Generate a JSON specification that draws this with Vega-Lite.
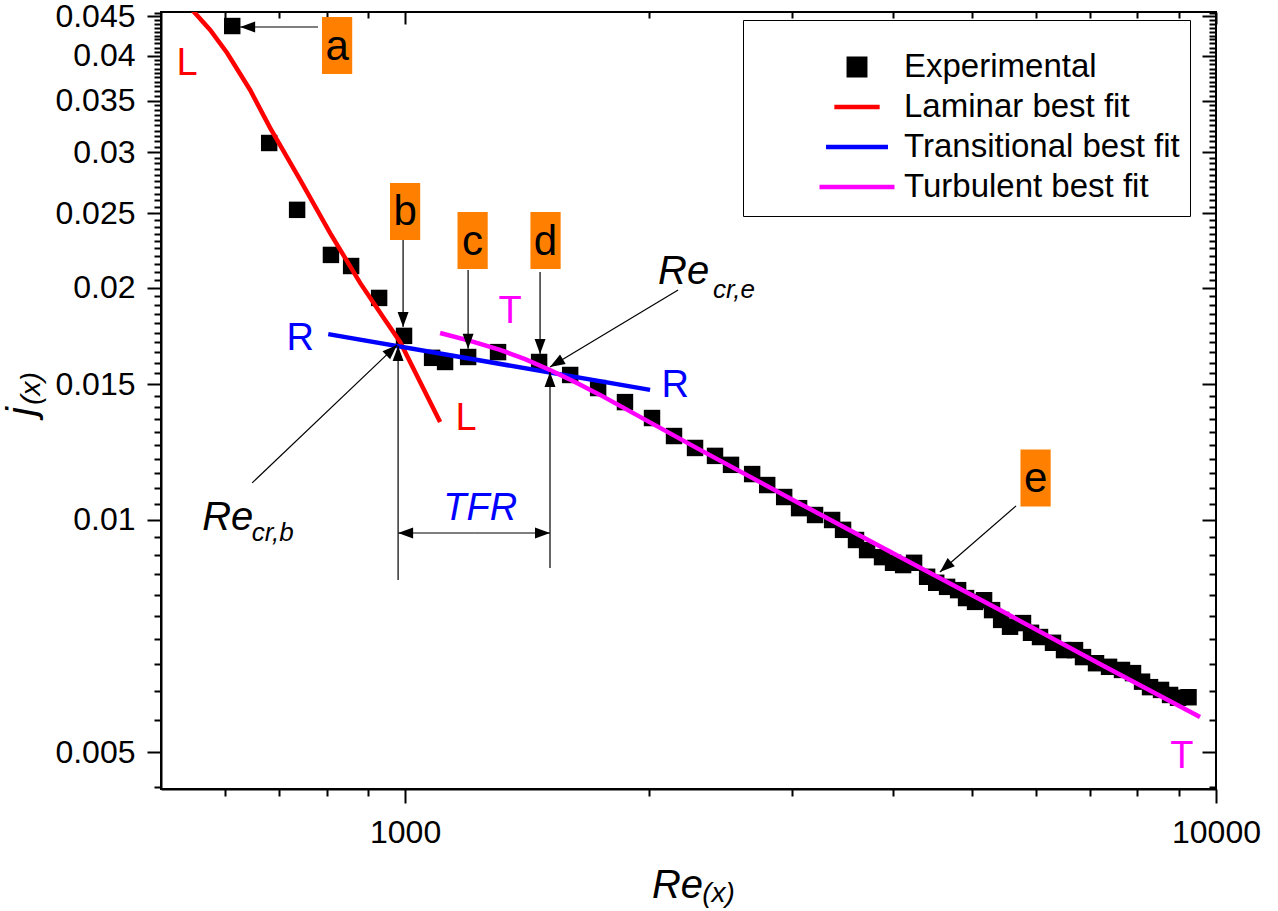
{
  "$schema": "https://vega.github.io/schema/vega-lite/v6.json",
  "width": 1055,
  "height": 777,
  "autosize": "none",
  "padding": {"left": 161, "top": 12, "right": 62, "bottom": 122},
  "background": "white",
  "config": {
    "view": {"stroke": "black", "strokeWidth": 2},
    "font": "Liberation Sans",
    "axis": {"domainColor": "black", "domainWidth": 2, "tickColor": "black", "tickWidth": 2, "labelFont": "Liberation Sans", "labelFontSize": 32, "labelColor": "black", "grid": false, "titleColor": "black", "titleFont": "Liberation Sans", "titleFontWeight": "normal"}
  },
  "datasets": {
    "exp": [
      {"Re": 612.1, "j": 0.04372, "series": "Experimental"},
      {"Re": 679.8, "j": 0.03083, "series": "Experimental"},
      {"Re": 735.9, "j": 0.02525, "series": "Experimental"},
      {"Re": 810.1, "j": 0.02207, "series": "Experimental"},
      {"Re": 857.9, "j": 0.02135, "series": "Experimental"},
      {"Re": 928.9, "j": 0.01941, "series": "Experimental"},
      {"Re": 997, "j": 0.01733, "series": "Experimental"},
      {"Re": 1079.7, "j": 0.01623, "series": "Experimental"},
      {"Re": 1120.2, "j": 0.01603, "series": "Experimental"},
      {"Re": 1196, "j": 0.01627, "series": "Experimental"},
      {"Re": 1302, "j": 0.01651, "series": "Experimental"},
      {"Re": 1463, "j": 0.01603, "series": "Experimental"},
      {"Re": 1598, "j": 0.01542, "series": "Experimental"},
      {"Re": 1730, "j": 0.01483, "series": "Experimental"},
      {"Re": 1867, "j": 0.01422, "series": "Experimental"},
      {"Re": 2016, "j": 0.01356, "series": "Experimental"},
      {"Re": 2146, "j": 0.01285, "series": "Experimental"},
      {"Re": 2278, "j": 0.0124, "series": "Experimental"},
      {"Re": 2411, "j": 0.01211, "series": "Experimental"},
      {"Re": 2523, "j": 0.01179, "series": "Experimental"},
      {"Re": 2679, "j": 0.01147, "series": "Experimental"},
      {"Re": 2796, "j": 0.0111, "series": "Experimental"},
      {"Re": 2934, "j": 0.01071, "series": "Experimental"},
      {"Re": 3061, "j": 0.01036, "series": "Experimental"},
      {"Re": 3203, "j": 0.01015, "series": "Experimental"},
      {"Re": 3362, "j": 0.0100, "series": "Experimental"},
      {"Re": 3468, "j": 0.00971, "series": "Experimental"},
      {"Re": 3598, "j": 0.00942, "series": "Experimental"},
      {"Re": 3713, "j": 0.00914, "series": "Experimental"},
      {"Re": 3874, "j": 0.00895, "series": "Experimental"},
      {"Re": 3997, "j": 0.0088, "series": "Experimental"},
      {"Re": 4113, "j": 0.00874, "series": "Experimental"},
      {"Re": 4243, "j": 0.0088, "series": "Experimental"},
      {"Re": 4403, "j": 0.00844, "series": "Experimental"},
      {"Re": 4518, "j": 0.00829, "series": "Experimental"},
      {"Re": 4660, "j": 0.00819, "series": "Experimental"},
      {"Re": 4808, "j": 0.00811, "series": "Experimental"},
      {"Re": 4918, "j": 0.00792, "series": "Experimental"},
      {"Re": 5045, "j": 0.00783, "series": "Experimental"},
      {"Re": 5176, "j": 0.00787, "series": "Experimental"},
      {"Re": 5295, "j": 0.00764, "series": "Experimental"},
      {"Re": 5433, "j": 0.00742, "series": "Experimental"},
      {"Re": 5572, "j": 0.00727, "series": "Experimental"},
      {"Re": 5781, "j": 0.00735, "series": "Experimental"},
      {"Re": 5914, "j": 0.00714, "series": "Experimental"},
      {"Re": 6067, "j": 0.00705, "series": "Experimental"},
      {"Re": 6295, "j": 0.00693, "series": "Experimental"},
      {"Re": 6495, "j": 0.00678, "series": "Experimental"},
      {"Re": 6701, "j": 0.00678, "series": "Experimental"},
      {"Re": 6855, "j": 0.00664, "series": "Experimental"},
      {"Re": 7113, "j": 0.00652, "series": "Experimental"},
      {"Re": 7381, "j": 0.00645, "series": "Experimental"},
      {"Re": 7657, "j": 0.00639, "series": "Experimental"},
      {"Re": 7901, "j": 0.00633, "series": "Experimental"},
      {"Re": 8106, "j": 0.00617, "series": "Experimental"},
      {"Re": 8292, "j": 0.00607, "series": "Experimental"},
      {"Re": 8555, "j": 0.00602, "series": "Experimental"},
      {"Re": 8777, "j": 0.00593, "series": "Experimental"},
      {"Re": 8978, "j": 0.00588, "series": "Experimental"},
      {"Re": 9250, "j": 0.00589, "series": "Experimental"}
    ],
    "lam": [
      {"Re": 535.6, "j": 0.04696, "series": "Laminar best fit"},
      {"Re": 574.9, "j": 0.0432, "series": "Laminar best fit"},
      {"Re": 603.3, "j": 0.04034, "series": "Laminar best fit"},
      {"Re": 644.0, "j": 0.03612, "series": "Laminar best fit"},
      {"Re": 681.6, "j": 0.03225, "series": "Laminar best fit"},
      {"Re": 742.3, "j": 0.02761, "series": "Laminar best fit"},
      {"Re": 808.3, "j": 0.02356, "series": "Laminar best fit"},
      {"Re": 880.1, "j": 0.0203, "series": "Laminar best fit"},
      {"Re": 944.7, "j": 0.01817, "series": "Laminar best fit"},
      {"Re": 985.9, "j": 0.01702, "series": "Laminar best fit"},
      {"Re": 1043.5, "j": 0.0151, "series": "Laminar best fit"},
      {"Re": 1104.5, "j": 0.0134, "series": "Laminar best fit"}
    ],
    "trans": [
      {"Re": 803.9, "j": 0.01742, "series": "Transitional best fit"},
      {"Re": 2005, "j": 0.01475, "series": "Transitional best fit"}
    ],
    "turb": [
      {"Re": 1104.5, "j": 0.01748, "series": "Turbulent best fit"},
      {"Re": 1202.7, "j": 0.01707, "series": "Turbulent best fit"},
      {"Re": 1309.6, "j": 0.01662, "series": "Turbulent best fit"},
      {"Re": 1406, "j": 0.01617, "series": "Turbulent best fit"},
      {"Re": 1509, "j": 0.01565, "series": "Turbulent best fit"},
      {"Re": 1620, "j": 0.0151, "series": "Turbulent best fit"},
      {"Re": 1739.6, "j": 0.01453, "series": "Turbulent best fit"},
      {"Re": 2311, "j": 0.01233, "series": "Turbulent best fit"},
      {"Re": 3069, "j": 0.0105, "series": "Turbulent best fit"},
      {"Re": 4077, "j": 0.008955, "series": "Turbulent best fit"},
      {"Re": 5416, "j": 0.007641, "series": "Turbulent best fit"},
      {"Re": 7193, "j": 0.006503, "series": "Turbulent best fit"},
      {"Re": 9556, "j": 0.005551, "series": "Turbulent best fit"}
    ],
    "arrows": [
      {"x1": 781.0, "y1": 0.04359, "x2": 626.0, "y2": 0.04359, "dir": "left"},
      {"x1": 994.3, "y1": 0.02307, "x2": 994.3, "y2": 0.0178, "dir": "down"},
      {"x1": 1195.9, "y1": 0.0211, "x2": 1195.9, "y2": 0.01667, "dir": "down"},
      {"x1": 1467, "y1": 0.02098, "x2": 1467, "y2": 0.01642, "dir": "down"},
      {"x1": 2171, "y1": 0.01987, "x2": 1509, "y2": 0.01579, "dir": "cre"},
      {"x1": 647.7, "y1": 0.01117, "x2": 977.5, "y2": 0.01687, "dir": "crb"},
      {"x1": 980.3, "y1": 0.008359, "x2": 980.3, "y2": 0.01682, "dir": "up"},
      {"x1": 1509, "y1": 0.008665, "x2": 1509, "y2": 0.01556, "dir": "up"},
      {"x1": 1216.5, "y1": 0.009619, "x2": 980.3, "y2": 0.009619, "dir": "left"},
      {"x1": 1216.5, "y1": 0.009619, "x2": 1509, "y2": 0.009619, "dir": "right"},
      {"x1": 5668, "y1": 0.01043, "x2": 4566, "y2": 0.008561, "dir": "e"}
    ],
    "boxes": [
      {"Re": 824.4, "j": 0.04124, "t": "a"},
      {"Re": 1000, "j": 0.02513, "t": "b"},
      {"Re": 1211.3, "j": 0.02304, "t": "c"},
      {"Re": 1490, "j": 0.02304, "t": "d"},
      {"Re": 5991, "j": 0.01134, "t": "e"}
    ],
    "lab_L": [
      {"Re": 538.5, "j": 0.03903, "t": "L"},
      {"Re": 1189, "j": 0.01352, "t": "L"}
    ],
    "lab_R": [
      {"Re": 742.2, "j": 0.01717, "t": "R"},
      {"Re": 2152.6, "j": 0.01492, "t": "R"}
    ],
    "lab_T": [
      {"Re": 1347.6, "j": 0.01862, "t": "T"},
      {"Re": 9079, "j": 0.004928, "t": "T"}
    ],
    "re_big": [
      {"Re": 2051, "j": 0.02023, "t": "Re"},
      {"Re": 562.0, "j": 0.009706, "t": "Re"}
    ],
    "re_sub": [
      {"Re": 2398, "j": 0.0194, "t": "cr,e"},
      {"Re": 647, "j": 0.009392, "t": "cr,b"}
    ],
    "tfr": [
      {"Re": 1237.5, "j": 0.01, "t": "TFR"}
    ]
  },
  "layer": [
    {
      "data": {"name": "exp"},
      "mark": {"type": "point", "filled": true, "opacity": 1, "strokeWidth": 0, "clip": true},
      "encoding": {
        "x": {"field": "Re", "type": "quantitative", "scale": {"type": "log", "domain": [500, 10000], "nice": false, "zero": false},
          "axis": {"orient": "bottom", "offset": 0, "values": [1000, 10000], "format": "d", "tickSize": 14, "labelPadding": 14, "labelFlush": false, "labelOverlap": false,
            "title": "Re", "titleFontSize": 40, "titleFontStyle": "italic", "titleX": 516, "titleY": 108, "titleAlign": "center", "titleBaseline": "alphabetic", "titleAnchor": null}},
        "y": {"field": "j", "type": "quantitative", "scale": {"type": "log", "domain": [0.004478, 0.04559], "nice": false, "zero": false},
          "axis": {"orient": "left", "offset": 0, "values": [0.005, 0.01, 0.015, 0.02, 0.025, 0.03, 0.035, 0.04, 0.045], "format": "~g", "tickSize": 14, "labelPadding": 12, "labelFlush": false, "labelOverlap": false,
            "title": "j", "titleFontSize": 40, "titleFontStyle": "italic", "titleAngle": -90, "titleX": -127, "titleY": 399, "titleAlign": "center", "titleBaseline": "alphabetic", "titleAnchor": null}},
        "color": {"field": "series", "type": "nominal",
          "scale": {"domain": ["Experimental", "Laminar best fit", "Transitional best fit", "Turbulent best fit"], "range": ["#000000", "#ff0000", "#0000ff", "#ff00ff"]},
          "legend": {"orient": "none", "legendX": 582, "legendY": 8, "title": " ", "titleFontSize": 8, "titlePadding": 10,
            "padding": 10, "fillColor": "white", "strokeColor": "black",
            "labelFont": "Liberation Sans", "labelFontSize": 33, "labelColor": "black", "labelOffset": 7, "labelLimit": 500,
            "labelExpr": "datum.label + '\u2002\u2002\u2002'",
            "symbolOffset": 64, "clipHeight": 38, "rowPadding": 2, "symbolStrokeWidth": 4.5,
            "encode": {"symbols": {
              "stroke": {"value": {"expr": "(scale('color', datum.value))"}},
              "strokeWidth": {"value": {"expr": "(datum.value === 'Experimental' ? 0 : 4.5)"}},
              "opacity": {"value": 1}
            }}}},
        "shape": {"field": "series", "type": "nominal",
          "scale": {"domain": ["Experimental", "Laminar best fit", "Transitional best fit", "Turbulent best fit"], "range": ["square", "stroke", "stroke", "stroke"]}},
        "size": {"field": "series", "type": "nominal",
          "scale": {"domain": ["Experimental", "Laminar best fit", "Transitional best fit", "Turbulent best fit"], "range": [270, 5625, 5625, 5625]}}
      }
    },
    {
      "data": {"name": "lam"},
      "mark": {"type": "line", "strokeWidth": 4.5, "clip": true},
      "encoding": {
        "x": {"field": "Re", "type": "quantitative", "scale": {"type": "log", "domain": [500, 10000], "nice": false, "zero": false},
          "axis": {"orient": "bottom", "offset": 0, "values": [600, 700, 800, 900, 2000, 3000, 4000, 5000, 6000, 7000, 8000, 9000], "labels": false, "domain": false, "tickSize": 7, "title": null}},
        "y": {"field": "j", "type": "quantitative", "scale": {"type": "log", "domain": [0.004478, 0.04559], "nice": false, "zero": false},
          "axis": {"orient": "left", "offset": 0, "values": [0.0045,0.0055,0.006,0.0065,0.007,0.0075,0.008,0.0085,0.009,0.0095,0.0105,0.011,0.0115,0.012,0.0125,0.013,0.0135,0.014,0.0145,0.0155,0.016,0.0165,0.017,0.0175,0.018,0.0185,0.019,0.0195,0.0205,0.021,0.0215,0.022,0.0225,0.023,0.0235,0.024,0.0245,0.0255,0.026,0.0265,0.027,0.0275,0.028,0.0285,0.029,0.0295,0.0305,0.031,0.0315,0.032,0.0325,0.033,0.0335,0.034,0.0345,0.0355,0.036,0.0365,0.037,0.0375,0.038,0.0385,0.039,0.0395,0.0405,0.041,0.0415,0.042,0.0425,0.043,0.0435,0.044,0.0445,0.0455], "labels": false, "domain": false, "tickSize": 7, "title": null}},
        "color": {"field": "series", "type": "nominal"}
      }
    },
    {
      "data": {"name": "trans"},
      "mark": {"type": "line", "strokeWidth": 4.5, "clip": true},
      "encoding": {
        "x": {"field": "Re", "type": "quantitative", "scale": {"type": "log", "domain": [500, 10000], "nice": false, "zero": false},
          "axis": {"orient": "top", "offset": 0, "values": [1000, 10000], "labels": false, "domain": false, "tickSize": -12, "title": null}},
        "y": {"field": "j", "type": "quantitative", "scale": {"type": "log", "domain": [0.004478, 0.04559], "nice": false, "zero": false},
          "axis": {"orient": "right", "offset": 0, "values": [0.005, 0.01, 0.015, 0.02, 0.025, 0.03, 0.035, 0.04, 0.045], "labels": false, "domain": false, "tickSize": -14, "title": null}},
        "color": {"field": "series", "type": "nominal"}
      }
    },
    {
      "data": {"name": "turb"},
      "mark": {"type": "line", "strokeWidth": 4.5, "clip": true},
      "encoding": {
        "x": {"field": "Re", "type": "quantitative", "scale": {"type": "log", "domain": [500, 10000], "nice": false, "zero": false},
          "axis": {"orient": "top", "offset": 0, "values": [600, 700, 800, 900, 2000, 3000, 4000, 5000, 6000, 7000, 8000, 9000], "labels": false, "domain": false, "tickSize": -6, "title": null}},
        "y": {"field": "j", "type": "quantitative", "scale": {"type": "log", "domain": [0.004478, 0.04559], "nice": false, "zero": false},
          "axis": {"orient": "right", "offset": 0, "values": [0.0045,0.0055,0.006,0.0065,0.007,0.0075,0.008,0.0085,0.009,0.0095,0.0105,0.011,0.0115,0.012,0.0125,0.013,0.0135,0.014,0.0145,0.0155,0.016,0.0165,0.017,0.0175,0.018,0.0185,0.019,0.0195,0.0205,0.021,0.0215,0.022,0.0225,0.023,0.0235,0.024,0.0245,0.0255,0.026,0.0265,0.027,0.0275,0.028,0.0285,0.029,0.0295,0.0305,0.031,0.0315,0.032,0.0325,0.033,0.0335,0.034,0.0345,0.0355,0.036,0.0365,0.037,0.0375,0.038,0.0385,0.039,0.0395,0.0405,0.041,0.0415,0.042,0.0425,0.043,0.0435,0.044,0.0445,0.0455], "labels": false, "domain": false, "tickSize": -7, "title": null}},
        "color": {"field": "series", "type": "nominal"}
      }
    },
    {
      "data": {"name": "boxes"},
      "mark": {"type": "point", "filled": true, "shape": "M-0.53,-1H0.53V1H-0.53Z", "size": 3249, "color": "#ff8000", "opacity": 1, "strokeWidth": 0},
      "encoding": {
        "x": {"field": "Re", "type": "quantitative", "scale": {"type": "log", "domain": [500, 10000], "nice": false, "zero": false},
          "axis": {"orient": "bottom", "offset": 0, "labels": false, "ticks": false, "domain": false, "title": "(x)", "titleFontSize": 28, "titleFontStyle": "italic", "titleX": 557, "titleY": 112, "titleAlign": "center", "titleBaseline": "alphabetic", "titleAnchor": null}},
        "y": {"field": "j", "type": "quantitative", "scale": {"type": "log", "domain": [0.004478, 0.04559], "nice": false, "zero": false},
          "axis": {"orient": "left", "offset": 0, "labels": false, "ticks": false, "domain": false, "title": "(x)", "titleFontSize": 28, "titleFontStyle": "italic", "titleAngle": -90, "titleX": -122, "titleY": 376, "titleAlign": "center", "titleBaseline": "alphabetic", "titleAnchor": null}}
      }
    },
    {
      "data": {"name": "boxes"},
      "mark": {"type": "text", "font": "Liberation Sans", "fontSize": 42, "color": "black", "align": "center", "baseline": "middle", "dy": 1},
      "encoding": {
        "x": {"field": "Re", "type": "quantitative", "axis": null},
        "y": {"field": "j", "type": "quantitative", "axis": null},
        "text": {"field": "t"}
      }
    },
    {
      "data": {"name": "arrows"},
      "mark": {"type": "rule", "color": "black", "strokeWidth": 1.2},
      "encoding": {
        "x": {"field": "x1", "type": "quantitative", "axis": null},
        "y": {"field": "y1", "type": "quantitative", "axis": null},
        "x2": {"field": "x2"},
        "y2": {"field": "y2"}
      }
    },
    {
      "data": {"name": "arrows"},
      "transform": [{"filter": "datum.dir === 'up'"}],
      "mark": {"type": "point", "filled": true, "shape": "M0,0L0.73,2L-0.73,2Z", "size": 225, "angle": 0, "color": "black", "opacity": 1, "strokeWidth": 0},
      "encoding": {"x": {"field": "x2", "type": "quantitative", "axis": null}, "y": {"field": "y2", "type": "quantitative", "axis": null}}
    },
    {
      "data": {"name": "arrows"},
      "transform": [{"filter": "datum.dir === 'right'"}],
      "mark": {"type": "point", "filled": true, "shape": "M0,0L0.73,2L-0.73,2Z", "size": 225, "angle": 90, "color": "black", "opacity": 1, "strokeWidth": 0},
      "encoding": {"x": {"field": "x2", "type": "quantitative", "axis": null}, "y": {"field": "y2", "type": "quantitative", "axis": null}}
    },
    {
      "data": {"name": "arrows"},
      "transform": [{"filter": "datum.dir === 'down'"}],
      "mark": {"type": "point", "filled": true, "shape": "M0,0L0.73,2L-0.73,2Z", "size": 225, "angle": 180, "color": "black", "opacity": 1, "strokeWidth": 0},
      "encoding": {"x": {"field": "x2", "type": "quantitative", "axis": null}, "y": {"field": "y2", "type": "quantitative", "axis": null}}
    },
    {
      "data": {"name": "arrows"},
      "transform": [{"filter": "datum.dir === 'left'"}],
      "mark": {"type": "point", "filled": true, "shape": "M0,0L0.73,2L-0.73,2Z", "size": 225, "angle": 270, "color": "black", "opacity": 1, "strokeWidth": 0},
      "encoding": {"x": {"field": "x2", "type": "quantitative", "axis": null}, "y": {"field": "y2", "type": "quantitative", "axis": null}}
    },
    {
      "data": {"name": "arrows"},
      "transform": [{"filter": "datum.dir === 'cre'"}],
      "mark": {"type": "point", "filled": true, "shape": "M0,0L0.73,2L-0.73,2Z", "size": 225, "angle": 239, "color": "black", "opacity": 1, "strokeWidth": 0},
      "encoding": {"x": {"field": "x2", "type": "quantitative", "axis": null}, "y": {"field": "y2", "type": "quantitative", "axis": null}}
    },
    {
      "data": {"name": "arrows"},
      "transform": [{"filter": "datum.dir === 'crb'"}],
      "mark": {"type": "point", "filled": true, "shape": "M0,0L0.73,2L-0.73,2Z", "size": 225, "angle": 46, "color": "black", "opacity": 1, "strokeWidth": 0},
      "encoding": {"x": {"field": "x2", "type": "quantitative", "axis": null}, "y": {"field": "y2", "type": "quantitative", "axis": null}}
    },
    {
      "data": {"name": "arrows"},
      "transform": [{"filter": "datum.dir === 'e'"}],
      "mark": {"type": "point", "filled": true, "shape": "M0,0L0.73,2L-0.73,2Z", "size": 225, "angle": 229, "color": "black", "opacity": 1, "strokeWidth": 0},
      "encoding": {"x": {"field": "x2", "type": "quantitative", "axis": null}, "y": {"field": "y2", "type": "quantitative", "axis": null}}
    },
    {
      "data": {"name": "lab_L"},
      "mark": {"type": "text", "font": "Liberation Sans", "fontSize": 38, "color": "#ff0000", "align": "center", "baseline": "middle"},
      "encoding": {
        "x": {"field": "Re", "type": "quantitative", "axis": null},
        "y": {"field": "j", "type": "quantitative", "axis": null},
        "text": {"field": "t"}
      }
    },
    {
      "data": {"name": "lab_R"},
      "mark": {"type": "text", "font": "Liberation Sans", "fontSize": 38, "color": "#0000ff", "align": "center", "baseline": "middle"},
      "encoding": {
        "x": {"field": "Re", "type": "quantitative", "axis": null},
        "y": {"field": "j", "type": "quantitative", "axis": null},
        "text": {"field": "t"}
      }
    },
    {
      "data": {"name": "lab_T"},
      "mark": {"type": "text", "font": "Liberation Sans", "fontSize": 38, "color": "#ff00ff", "align": "center", "baseline": "middle"},
      "encoding": {
        "x": {"field": "Re", "type": "quantitative", "axis": null},
        "y": {"field": "j", "type": "quantitative", "axis": null},
        "text": {"field": "t"}
      }
    },
    {
      "data": {"name": "re_big"},
      "mark": {"type": "text", "font": "Liberation Sans", "fontSize": 40, "fontStyle": "italic", "color": "black", "align": "left", "baseline": "alphabetic"},
      "encoding": {
        "x": {"field": "Re", "type": "quantitative", "axis": null},
        "y": {"field": "j", "type": "quantitative", "axis": null},
        "text": {"field": "t"}
      }
    },
    {
      "data": {"name": "re_sub"},
      "mark": {"type": "text", "font": "Liberation Sans", "fontSize": 26, "fontStyle": "italic", "color": "black", "align": "left", "baseline": "alphabetic"},
      "encoding": {
        "x": {"field": "Re", "type": "quantitative", "axis": null},
        "y": {"field": "j", "type": "quantitative", "axis": null},
        "text": {"field": "t"}
      }
    },
    {
      "data": {"name": "tfr"},
      "mark": {"type": "text", "font": "Liberation Sans", "fontSize": 38, "fontStyle": "italic", "color": "#0000ff", "align": "center", "baseline": "alphabetic"},
      "encoding": {
        "x": {"field": "Re", "type": "quantitative", "axis": null},
        "y": {"field": "j", "type": "quantitative", "axis": null},
        "text": {"field": "t"}
      }
    }
  ],
  "resolve": {"axis": {"x": "independent", "y": "independent"}}
}
